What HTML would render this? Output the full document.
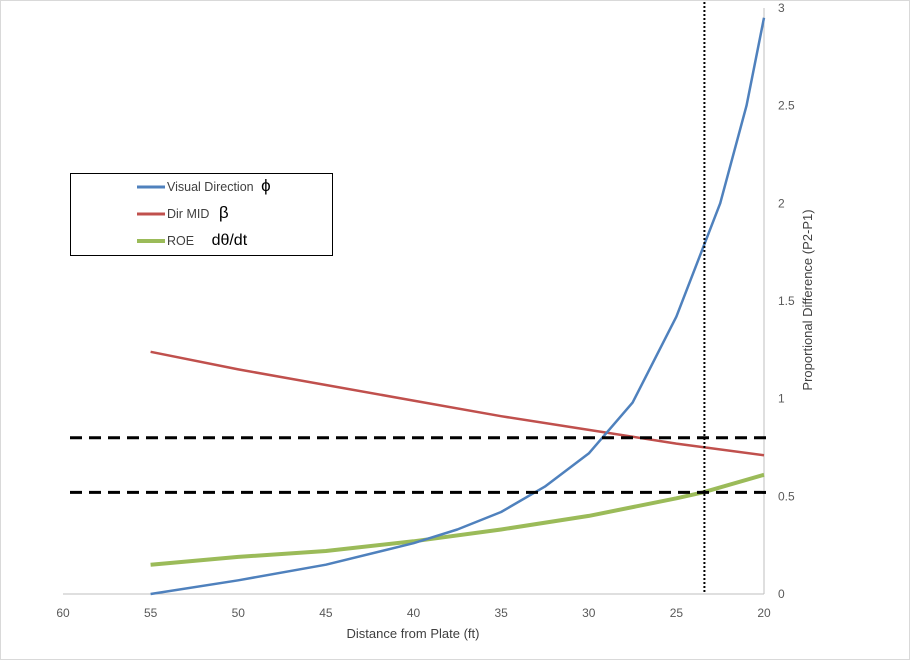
<!DOCTYPE html>
<html><head><meta charset="utf-8"><style>
body{margin:0;background:#fff;}
svg{display:block;font-family:"Liberation Sans",sans-serif;}
</style></head><body>
<svg width="911" height="661">
<rect x="0.5" y="0.5" width="909" height="659" fill="#fff" stroke="#d9d9d9"/>
<g id="plot"></g>
<g>
<rect x="70.5" y="173.5" width="262" height="82" fill="#fff" stroke="#000"/>
<line x1="137" y1="187" x2="165" y2="187" stroke="#4f81bd" stroke-width="3"/>
<text x="167" y="191" font-size="12.5" fill="#404040">Visual Direction <tspan font-size="17" fill="#000" dx="4">ϕ</tspan></text>
<line x1="137" y1="214" x2="165" y2="214" stroke="#c0504d" stroke-width="3"/>
<text x="167" y="218" font-size="12.5" fill="#404040">Dir MID <tspan font-size="17" fill="#000" dx="6">β</tspan></text>
<line x1="137" y1="241" x2="165" y2="241" stroke="#9bbb59" stroke-width="4"/>
<text x="167" y="245" font-size="12.5" fill="#404040">ROE <tspan font-size="16" fill="#000" dx="14">dθ/dt</tspan></text>
</g>
<text x="413" y="638" font-size="13" fill="#404040" text-anchor="middle">Distance from Plate (ft)</text>
<text transform="translate(812,300) rotate(-90)" font-size="13" fill="#404040" text-anchor="middle">Proportional  Difference (P2-P1)</text>
</svg>
<script>
const xTicks=[60,55,50,45,40,35,30,25,20];
const yTicks=[0,0.5,1,1.5,2,2.5,3];
const visX=[55,50,45,40,37.5,35,32.5,30,27.5,25,22.5,21,20];
const visY=[0,0.07,0.15,0.26,0.33,0.42,0.55,0.72,0.98,1.42,2.0,2.5,2.95];
const midX=[55,50,45,40,35,30,25,20];
const midY=[1.24,1.15,1.07,0.99,0.91,0.84,0.77,0.71];
const roeX=[55,50,45,40,35,30,25,23.5,20];
const roeY=[0.15,0.19,0.22,0.27,0.33,0.40,0.49,0.52,0.61];
const thresholds=[0.8,0.52];
const cutoff=[23.4];
const X=v=>63+(60-v)*701/40;
const Y=v=>594-v*586/3;
const ns="http://www.w3.org/2000/svg";
const g=document.getElementById('plot');
function mk(t,a){const e=document.createElementNS(ns,t);for(const k in a)e.setAttribute(k,a[k]);g.appendChild(e);return e;}
let e=mk('line',{x1:63,y1:Y(0),x2:764,y2:Y(0),stroke:'#bfbfbf'});


e=mk('line',{x1:764,y1:Y(0),x2:764,y2:Y(3),stroke:'#bfbfbf'});


xTicks.forEach(v=>{const t=mk('text',{x:X(v),y:617,'font-size':12,fill:'#595959','text-anchor':'middle'});t.textContent=v;

});
yTicks.forEach(v=>{const t=mk('text',{x:778,y:Y(v)+4,'font-size':12,fill:'#595959'});t.textContent=v;

});
function line(xs,ys,c,w,n){const d=xs.map((x,i)=>(i?'L':'M')+X(x).toFixed(1)+','+Y(ys[i]).toFixed(1)).join(' ');
const p=mk('path',{d:d,fill:'none',stroke:c,'stroke-width':w,'stroke-linejoin':'round'});

}
line(roeX,roeY,'#9bbb59',4,'series-roe');
line(midX,midY,'#c0504d',2.5,'series-dir-mid');
line(visX,visY,'#4f81bd',2.5,'series-visual-direction');
thresholds.forEach(v=>{const l=mk('line',{x1:70,y1:Y(v),x2:772,y2:Y(v),stroke:'#000','stroke-width':3,'stroke-dasharray':'12 7'});

});
cutoff.forEach(v=>{const l=mk('line',{x1:X(v),y1:2,x2:X(v),y2:Y(0),stroke:'#000','stroke-width':2,'stroke-dasharray':'2 2'});

});
</script>
</body></html>
